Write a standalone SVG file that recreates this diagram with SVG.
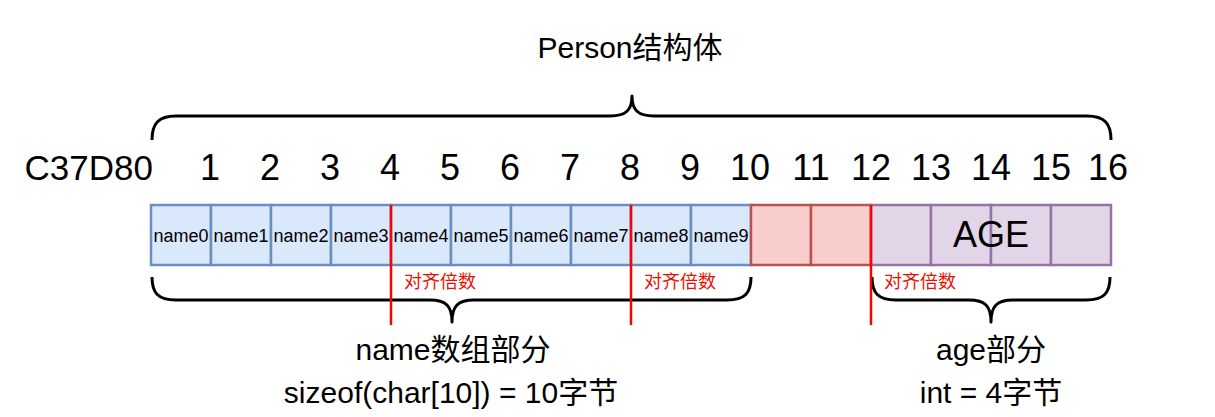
<svg xmlns="http://www.w3.org/2000/svg" width="1215" height="417" viewBox="0 0 1215 417">
<style>
text{font-family:"Liberation Sans","Noto Sans CJK SC",sans-serif;fill:#000;}
.blue{fill:#dae8fc;stroke:#6c8ebf;stroke-width:2.5;}
.red{fill:#f8cecc;stroke:#b85450;stroke-width:2.5;}
.purple{fill:#e1d5e7;stroke:#9673a6;stroke-width:2.5;}
.nm{font-size:18px;text-anchor:middle;}
.num{font-size:36px;text-anchor:middle;}
.big{font-size:30px;text-anchor:middle;}
.align{font-size:18px;fill:#e51400;}
.brace{fill:none;stroke:#000;stroke-width:3;stroke-linejoin:round;}
.mark{stroke:#ff0000;stroke-width:2.5;}
</style>
<rect width="1215" height="417" fill="#fff"/>
<g id="title"><text class="big" x="630" y="58">Person结构体</text></g>
<g id="offsets">
<text x="153" y="180" style="font-size:35px;text-anchor:end">C37D80</text>
<text class="num" x="210" y="180">1</text>
<text class="num" x="270" y="180">2</text>
<text class="num" x="330" y="180">3</text>
<text class="num" x="390" y="180">4</text>
<text class="num" x="450" y="180">5</text>
<text class="num" x="510" y="180">6</text>
<text class="num" x="570" y="180">7</text>
<text class="num" x="630" y="180">8</text>
<text class="num" x="690" y="180">9</text>
<text class="num" x="750" y="180">10</text>
<text class="num" x="811" y="180">11</text>
<text class="num" x="871" y="180">12</text>
<text class="num" x="931" y="180">13</text>
<text class="num" x="991" y="180">14</text>
<text class="num" x="1051" y="180">15</text>
<text class="num" x="1108" y="180">16</text>
</g>
<g id="name0"><rect class="blue" x="151" y="205" width="60" height="60"/><text class="nm" x="181" y="241.5">name0</text></g>
<g id="name1"><rect class="blue" x="211" y="205" width="60" height="60"/><text class="nm" x="241" y="241.5">name1</text></g>
<g id="name2"><rect class="blue" x="271" y="205" width="60" height="60"/><text class="nm" x="301" y="241.5">name2</text></g>
<g id="name3"><rect class="blue" x="331" y="205" width="60" height="60"/><text class="nm" x="361" y="241.5">name3</text></g>
<g id="name4"><rect class="blue" x="391" y="205" width="60" height="60"/><text class="nm" x="421" y="241.5">name4</text></g>
<g id="name5"><rect class="blue" x="451" y="205" width="60" height="60"/><text class="nm" x="481" y="241.5">name5</text></g>
<g id="name6"><rect class="blue" x="511" y="205" width="60" height="60"/><text class="nm" x="541" y="241.5">name6</text></g>
<g id="name7"><rect class="blue" x="571" y="205" width="60" height="60"/><text class="nm" x="601" y="241.5">name7</text></g>
<g id="name8"><rect class="blue" x="631" y="205" width="60" height="60"/><text class="nm" x="661" y="241.5">name8</text></g>
<g id="name9"><rect class="blue" x="691" y="205" width="60" height="60"/><text class="nm" x="721" y="241.5">name9</text></g>
<g id="pad0"><rect class="red" x="751" y="205" width="60" height="60"/></g>
<g id="pad1"><rect class="red" x="811" y="205" width="60" height="60"/></g>
<g id="age">
<rect class="purple" x="871" y="205" width="60" height="60"/>
<rect class="purple" x="931" y="205" width="60" height="60"/>
<rect class="purple" x="991" y="205" width="60" height="60"/>
<rect class="purple" x="1051" y="205" width="60" height="60"/>
<text x="991" y="247" style="font-size:36px;text-anchor:middle">AGE</text>
</g>
<g id="connectors">
<path class="brace" d="M152,140 C152,124 158,116 176,116 L610,116 C626,116 632,110 632,96 C632,110 638,116 654,116 L1087,116 C1105,116 1111,124 1111,140"/>
<path class="brace" d="M152,277 C152,293 158,300 176,300 L430,300 C446,300 452,306 452,322 C452,306 458,300 474,300 L727,300 C745,300 751,293 751,277"/>
<path class="brace" d="M872,277 C872,293 878,300 896,300 L969,300 C985,300 991,306 991,322 C991,306 997,300 1013,300 L1086,300 C1104,300 1110,293 1110,277"/>
<line class="mark" x1="391" y1="205" x2="391" y2="325"/>
<line class="mark" x1="631" y1="205" x2="631" y2="325"/>
<line class="mark" x1="871" y1="205" x2="871" y2="325"/>
</g>
<g id="align-labels">
<text class="align" x="404" y="288">对齐倍数</text>
<text class="align" x="644" y="288">对齐倍数</text>
<text class="align" x="884" y="288">对齐倍数</text>
</g>
<g id="name-part">
<text class="big" x="453" y="360">name数组部分</text>
<text class="big" x="451" y="403">sizeof(char[10]) = 10字节</text>
</g>
<g id="age-part">
<text class="big" x="991" y="360">age部分</text>
<text class="big" x="991" y="403">int = 4字节</text>
</g>
</svg>
